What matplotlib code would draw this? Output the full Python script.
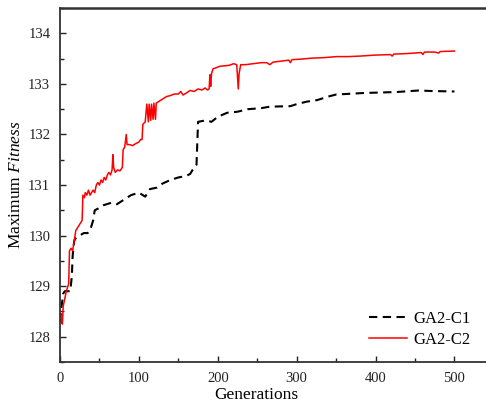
import matplotlib
matplotlib.use("Agg")
import matplotlib.pyplot as plt
from matplotlib.ticker import MultipleLocator

plt.rcParams['font.family'] = ['Liberation Serif', 'DejaVu Serif']
plt.rcParams['mathtext.fontset'] = 'custom'
plt.rcParams['mathtext.rm'] = 'Liberation Serif'
plt.rcParams['mathtext.it'] = 'Liberation Serif:italic'

# GA2-C2 (red, solid)
c2_gen = [0, 2, 3, 4, 6, 8, 10, 11, 12, 14, 16, 18, 20, 22, 24, 26, 28, 29,
          31, 32, 34, 36, 38, 40, 42, 44, 46, 48, 50, 52, 54, 56, 58, 60, 62, 64, 66, 67, 68,
          70, 73, 76, 79, 80, 82, 84, 85, 88, 92, 96, 100, 102, 104, 105, 108, 110, 112, 113,
          115, 116, 118, 119, 121, 122, 125, 130, 135, 140, 145, 150, 153, 156, 160, 165, 170,
          175, 180, 184, 187, 189, 190, 191, 192, 194, 198, 203, 210, 215, 220, 224, 226, 227,
          229, 235, 245, 255, 262, 266, 270, 280, 290, 292, 294, 305, 320, 335, 351, 365, 380,
          400, 419, 421, 423, 440, 458, 460, 462, 475, 480, 482, 500]
c2_val = [128.45, 128.3, 128.25, 128.6, 128.75, 128.9, 129.0, 129.05, 129.7, 129.75, 129.7,
          129.9, 130.1, 130.15, 130.2, 130.25, 130.3, 130.8,
          130.75, 130.85, 130.8, 130.9, 130.8, 130.85, 130.9, 130.85, 131.0, 131.05, 131.0,
          131.1, 131.05, 131.15, 131.1, 131.2, 131.25, 131.2, 131.3, 131.6, 131.35,
          131.25, 131.3, 131.28, 131.35, 131.7, 131.75, 132.0, 131.8, 131.8, 131.78, 131.82,
          131.85, 131.9, 131.9, 132.2, 132.25, 132.6, 132.25, 132.6,
          132.28, 132.6, 132.3, 132.62, 132.3, 132.62, 132.65, 132.7, 132.75, 132.77, 132.8,
          132.8, 132.85, 132.78, 132.82, 132.87, 132.85,
          132.9, 132.88, 132.92, 132.88, 132.9, 133.18, 132.95, 133.2, 133.3, 133.32, 133.35,
          133.36, 133.37, 133.4, 133.38, 132.9, 133.2,
          133.38, 133.38, 133.4, 133.42, 133.42, 133.38, 133.43, 133.45, 133.47, 133.42, 133.48,
          133.49, 133.51, 133.52, 133.54, 133.54, 133.55,
          133.57, 133.58, 133.55, 133.59, 133.6, 133.62, 133.58, 133.63, 133.63, 133.61, 133.64,
          133.65]

# GA2-C1 (black, dashed)
c1_gen = [0, 2, 4, 6, 13, 15, 16, 18, 20, 25, 30, 35, 38, 42, 44, 50, 55, 65, 72, 80, 90,
          100, 105, 108, 114, 123, 130, 140, 150, 160, 165, 170, 173, 175, 185, 192, 200, 212,
          225, 238, 255, 266, 292, 300, 313, 326, 340, 350, 385, 427, 455, 470, 500]
c1_val = [128.3, 128.6, 128.85, 128.9, 128.9, 129.2, 129.6, 129.9, 129.95, 130.0, 130.05,
          130.05, 130.1, 130.3, 130.5, 130.55, 130.6, 130.65, 130.62, 130.7, 130.8,
          130.85, 130.8, 130.77, 130.92, 130.95, 131.03, 131.1, 131.15, 131.18, 131.22, 131.35,
          131.4, 132.25, 132.28, 132.25, 132.35, 132.43,
          132.45, 132.5, 132.52, 132.55, 132.56, 132.6, 132.65, 132.68, 132.75, 132.79, 132.82,
          132.84, 132.87, 132.86, 132.85]

x_ticks = [0, 100, 200, 300, 400, 500]
y_ticks = [128, 129, 130, 131, 132, 133, 134]

fig = plt.figure(figsize=(4.86, 4.03), dpi=100)
ax = fig.add_axes([0.1235, 0.1017, 0.8765, 0.8783])

ax.plot(c1_gen, c1_val, color='black', linestyle=(0, (4, 2.6)), linewidth=1.5, label='GA2-C1')
ax.plot(c2_gen, c2_val, color='#ff0000', linestyle='-', linewidth=1.1, label='GA2-C2')

ax.set_xlim(0, 540)
ax.set_ylim(127.5, 134.5)
ax.set_xticks(x_ticks)
ax.set_yticks(y_ticks)
ax.xaxis.set_minor_locator(MultipleLocator(50))
ax.yaxis.set_minor_locator(MultipleLocator(0.5))
ax.tick_params(which='both', direction='in', top=False, right=False, labelsize=10.5,
               colors='#222222')
ax.tick_params(axis='x', which='both', pad=7)
ax.tick_params(axis='y', which='both', pad=7)
ax.tick_params(which='major', length=4.5, width=1.0)
ax.tick_params(which='minor', length=3, width=1.0)
for s in ['left', 'bottom', 'top']:
    ax.spines[s].set_color('#333333')
    ax.spines[s].set_linewidth(1.3)
ax.spines['top'].set_linewidth(1.8)
ax.spines['right'].set_visible(False)

ax.set_xlabel('Generations', fontsize=12.5)
ax.xaxis.set_label_coords(0.46, -0.072)
ax.set_ylabel('Maximum $\\mathit{Fitness}$', fontsize=12.5, labelpad=3)

ax.legend(loc='lower right', bbox_to_anchor=(0.965, 0.04), frameon=False, fontsize=12,
          handlelength=2.3, handletextpad=0.4, labelspacing=0.3, borderpad=0, borderaxespad=0)

fig.savefig('out.png', dpi=100)
